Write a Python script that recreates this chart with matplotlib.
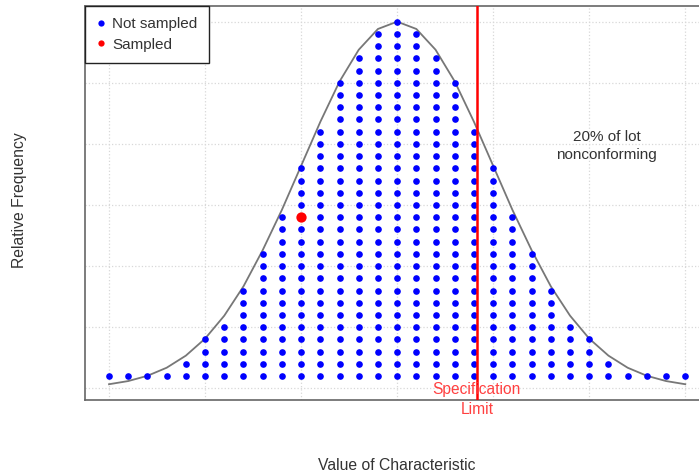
"""Dot plot of a lot under a normal curve, with specification limit."""
import matplotlib
matplotlib.use("Agg")
import matplotlib.pyplot as plt
from matplotlib.lines import Line2D

plt.rcParams["font.family"] = ["Liberation Sans", "DejaVu Sans"]

# column positions (in sd units) and number of units stacked in each column
x_values = [-3.0, -2.8, -2.6, -2.4, -2.2, -2.0, -1.8, -1.6, -1.4, -1.2, -1.0,
            -0.8, -0.6, -0.4, -0.2, 0.0, 0.2, 0.4, 0.6, 0.8, 1.0,
            1.2, 1.4, 1.6, 1.8, 2.0, 2.2, 2.4, 2.6, 2.8, 3.0]
counts = [1, 1, 1, 1, 2, 4, 5, 8, 11, 14, 18,
          21, 25, 27, 29, 30, 29, 27, 25, 21, 18,
          14, 11, 8, 5, 4, 2, 1, 1, 1, 1]
# height of the frequency curve at each column
curve = [0.33, 0.59, 1.02, 1.68, 2.67, 4.06, 5.94, 8.34, 11.3, 14.6, 18.2,
         21.8, 25.1, 27.7, 29.4, 30.0, 29.4, 27.7, 25.1, 21.8, 18.2,
         14.6, 11.3, 8.34, 5.94, 4.06, 2.67, 1.68, 1.02, 0.59, 0.33]
sampled = (-1.0, 14)
spec_limit = 0.83
note_pos = (2.18, 19.8)

fig = plt.figure(figsize=(6.99, 4.76), dpi=100)
ax = fig.add_axes([85 / 699, 1 - 400 / 476, (709.3 - 85) / 699, 394 / 476])

bx, by = [], []
for x, n in zip(x_values, counts):
    for k in range(1, n + 1):
        if (x, k) == sampled:
            continue
        bx.append(x)
        by.append(k)
ax.scatter(bx, by, s=23, color="#0000ff", zorder=3, linewidths=0)
ax.scatter([sampled[0]], [sampled[1]], s=55, color="#ff0000", zorder=4, linewidths=0)
ax.plot(x_values, curve, color="#777777", lw=1.3, zorder=2)
ax.axvline(spec_limit, color="#ff0000", lw=1.8, zorder=5)

ax.set_xlim(-3.25, 3.25)
ax.set_ylim(-0.96, 31.28)
ax.set_xticks([-3, -2, -1, 0, 1, 2, 3])
ax.set_yticks([0, 5, 10, 15, 20, 25, 30])
ax.tick_params(length=0, labelbottom=False, labelleft=False)
ax.grid(color="#d8d8d8", linestyle=":", lw=0.9, zorder=0)
ax.set_axisbelow(True)
for sp in ax.spines.values():
    sp.set_color("#666666")
    sp.set_linewidth(1.2)

ax.text(spec_limit, -0.92, "Specification\nLimit", color="#ff4040", fontsize=11.2,
        ha="center", va="center", linespacing=1.4, clip_on=False, zorder=6)
ax.text(note_pos[0], note_pos[1], "20% of lot\nnonconforming", color="#333333",
        fontsize=11, ha="center", va="center", linespacing=1.4)

fig.text(397 / 699, 1 - 466 / 476, "Value of Characteristic", color="#333333",
         fontsize=11.3, ha="center", va="center")
fig.text(20 / 699, 1 - 200 / 476, "Relative Frequency", color="#333333",
         fontsize=11.3, ha="center", va="center", rotation=90)

handles = [Line2D([], [], ls="", marker="o", ms=4.5, color="#0000ff", mec="none"),
           Line2D([], [], ls="", marker="o", ms=4.5, color="#ff0000", mec="none")]
leg = ax.legend(handles, ["Not sampled", "Sampled"], loc="upper left",
                bbox_to_anchor=(0, 1), borderaxespad=0, fancybox=False,
                framealpha=1, edgecolor="#222222", fontsize=11,
                handlelength=0.6, handletextpad=0.45, labelspacing=0.4,
                borderpad=0.75)
leg.get_frame().set_linewidth(1.0)
for t in leg.get_texts():
    t.set_color("#333333")

fig.savefig("out.png", dpi=100)
